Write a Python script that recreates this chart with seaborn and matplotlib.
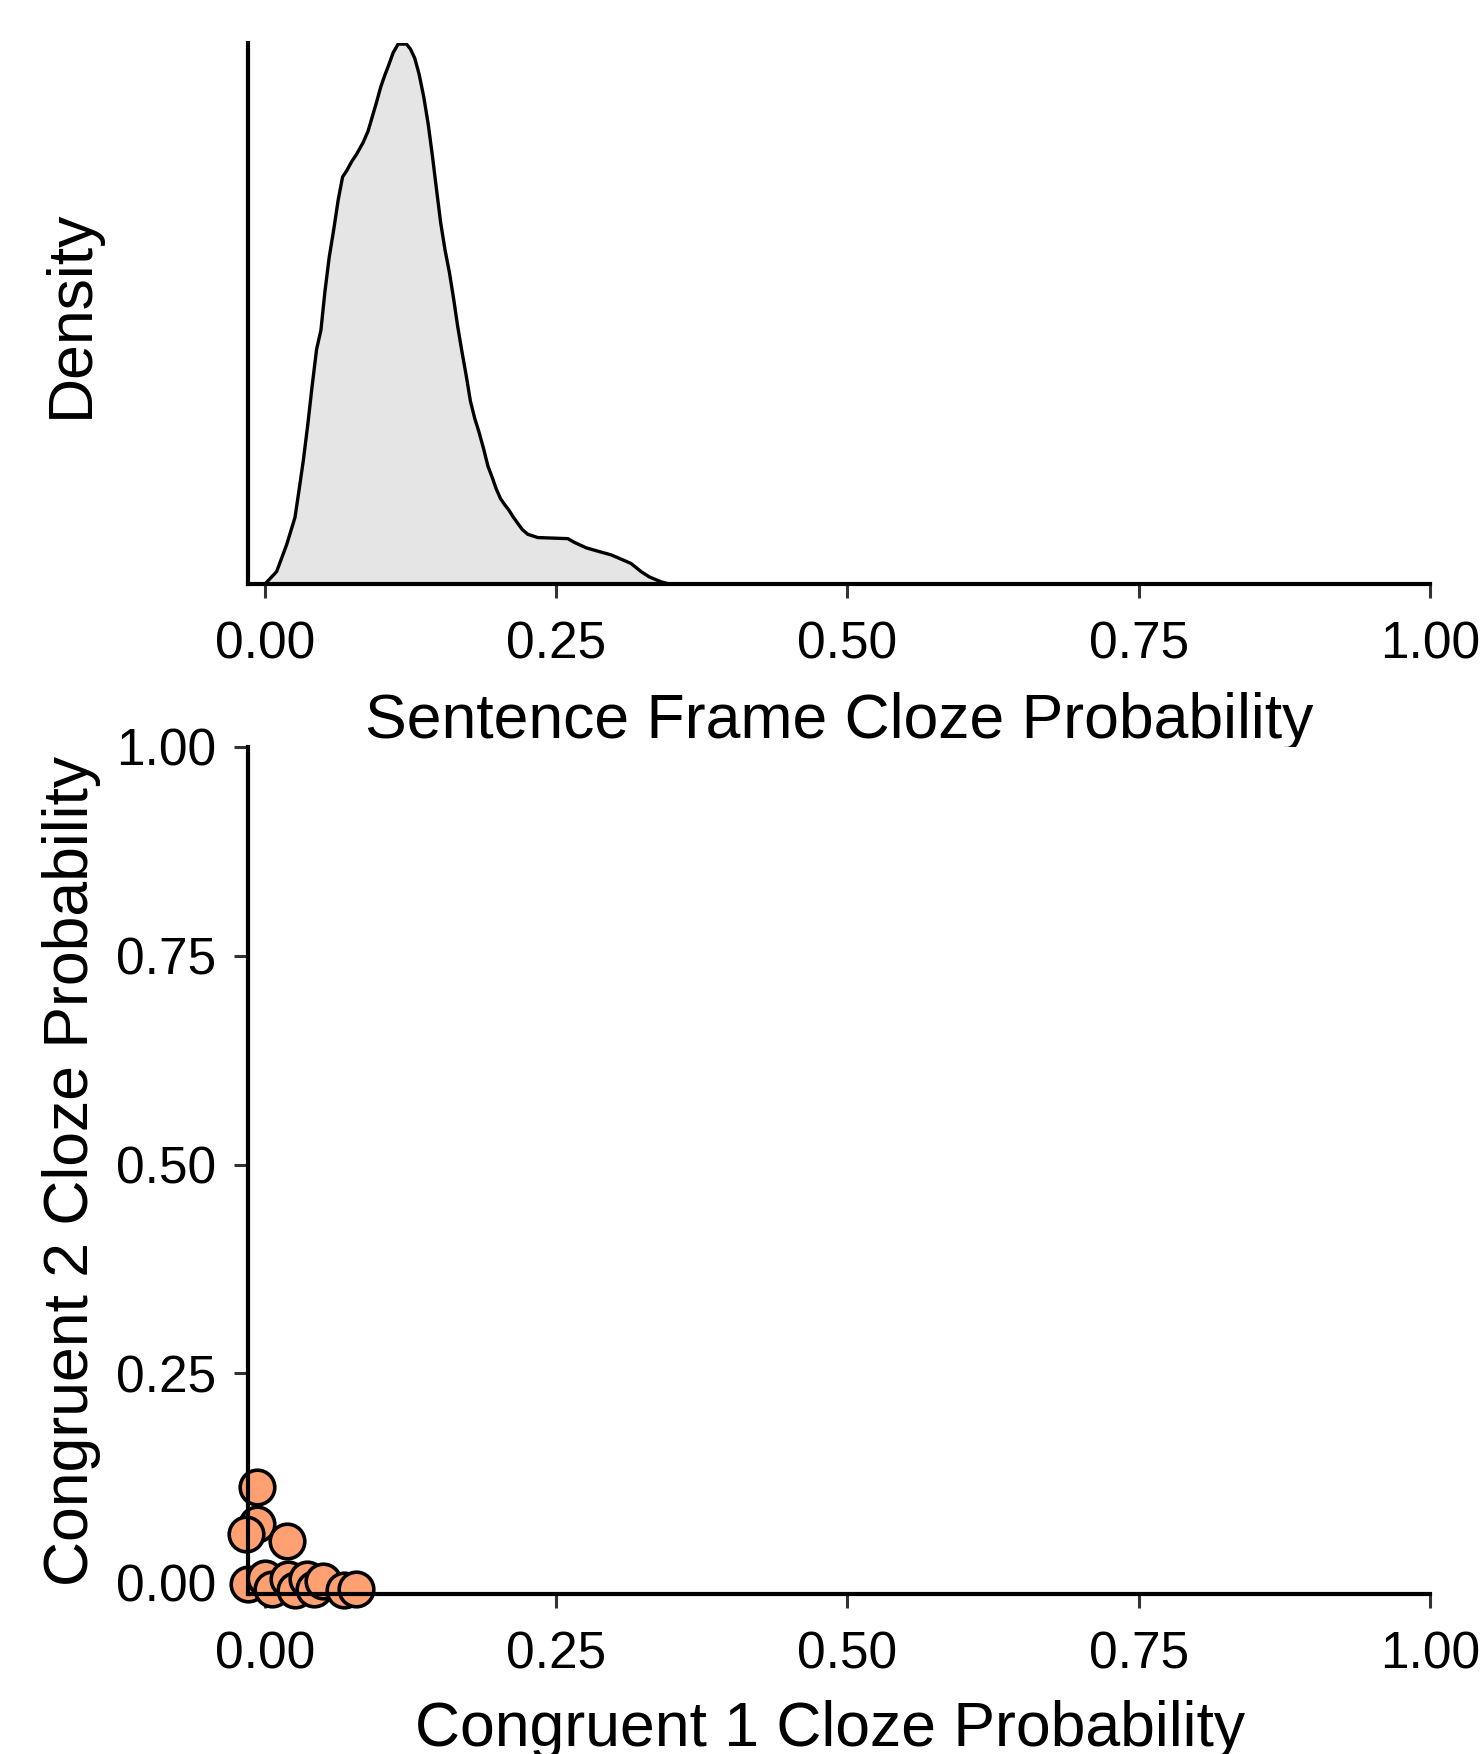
import matplotlib
matplotlib.use("Agg")
import matplotlib.pyplot as plt
import seaborn as sns
import pandas as pd

# ---- data ----
frame_cloze = [0.000, 0.010, 0.0186, 0.0257, 0.0291, 0.0329, 0.0366, 0.0403, 0.0443, 0.048,
               0.0514, 0.0551, 0.0591, 0.0628, 0.0666, 0.070, 0.0743, 0.0786, 0.0843, 0.0885,
               0.0923, 0.0957, 0.0994, 0.1028, 0.1065, 0.110, 0.1143, 0.1214, 0.1248, 0.1285,
               0.1322, 0.1362, 0.140, 0.1437, 0.1471, 0.1508, 0.1545, 0.1583, 0.162, 0.1654,
               0.169, 0.1728, 0.1763, 0.180, 0.1836, 0.1877, 0.1914, 0.1951, 0.1985, 0.2022,
               0.2057, 0.2093, 0.2131, 0.2171, 0.2208, 0.2256, 0.2342, 0.2471, 0.260, 0.2656,
               0.2757, 0.287, 0.297, 0.3057, 0.3142, 0.3228, 0.330, 0.340, 0.347]
frame_density = [0, 0.023, 0.073, 0.123, 0.172, 0.229, 0.293, 0.364, 0.435, 0.470,
                 0.541, 0.605, 0.658, 0.711, 0.754, 0.765, 0.782, 0.796, 0.818, 0.839,
                 0.867, 0.892, 0.921, 0.942, 0.963, 0.984, 1.0, 1.0, 0.991, 0.974,
                 0.945, 0.903, 0.853, 0.793, 0.733, 0.669, 0.619, 0.577, 0.527, 0.477,
                 0.431, 0.385, 0.339, 0.307, 0.282, 0.250, 0.218, 0.197, 0.176, 0.158,
                 0.147, 0.137, 0.124, 0.112, 0.101, 0.092, 0.086, 0.085, 0.084, 0.077,
                 0.067, 0.060, 0.054, 0.046, 0.038, 0.023, 0.013, 0.004, 0]

cong1_cloze = [-0.007, -0.0066, -0.0166, 0.0186, -0.015, 0.000, 0.006, 0.020, 0.026,
               0.036, 0.042, 0.050, 0.068, 0.078]
cong2_cloze = [0.1136, 0.070, 0.058, 0.0489, -0.002, 0.005, -0.008, 0.004, -0.009,
               0.004, -0.008, 0.001, -0.009, -0.008]

tick_values = [0.0, 0.25, 0.5, 0.75, 1.0]
tick_labels = ["0.00", "0.25", "0.50", "0.75", "1.00"]

x_label_top = "Sentence Frame Cloze Probability"
y_label_top = "Density"
x_label_bottom = "Congruent 1 Cloze Probability"
y_label_bottom = "Congruent 2 Cloze Probability"

# ---- style ----
sns.set_style("ticks")
plt.rcParams['font.family'] = ['Liberation Sans', 'DejaVu Sans']
plt.rcParams['axes.labelcolor'] = 'black'
plt.rcParams['text.color'] = 'black'

fig = plt.figure(figsize=(14.81, 17.54), dpi=100)
ax1 = fig.add_axes([0.16745, 0.66705, 0.7981, 0.30844])
ax2 = fig.add_axes([0.16745, 0.09122, 0.7981, 0.4829])

dens = pd.DataFrame({"x": frame_cloze, "d": frame_density})
ax1.fill_between(dens["x"], dens["d"], color="#E5E5E5", lw=0, zorder=1)
sns.lineplot(data=dens, x="x", y="d", ax=ax1, color="black", lw=2.4, sort=False,
             estimator=None, zorder=2)

pts = pd.DataFrame({"c1": cong1_cloze, "c2": cong2_cloze})
sns.scatterplot(data=pts, x="c1", y="c2", ax=ax2, s=620, color="#FFA072",
                edgecolor="black", linewidth=2.6, clip_on=False, zorder=1)

for ax in (ax1, ax2):
    sns.despine(ax=ax)
    for side in ("left", "bottom"):
        ax.spines[side].set_linewidth(3.0)
        ax.spines[side].set_color("black")
        ax.spines[side].set_zorder(5)
    ax.set_xlim(-0.0146, 1.0)
    ax.set_xticks(tick_values)
    ax.set_xticklabels(tick_labels)
    ax.tick_params(axis="both", length=10, width=2.2, color="#333333",
                   labelsize=37, labelcolor="black")
    ax.tick_params(axis="x", pad=16)
    ax.tick_params(axis="y", pad=13)

ax1.set_ylim(0, 1.002)
ax1.set_yticks([])
ax2.set_ylim(-0.0143, 1.0)
ax2.set_yticks(tick_values)
ax2.set_yticklabels(tick_labels)

ax1.set_xlabel(x_label_top, fontsize=45, color="black")
ax1.set_ylabel(y_label_top, fontsize=45, color="black")
ax2.set_xlabel(x_label_bottom, fontsize=45, color="black")
ax2.set_ylabel(y_label_bottom, fontsize=45, color="black")

ax1.xaxis.set_label_coords(0.5, -0.1996)
ax1.xaxis.label.set_va("top")
ax2.xaxis.set_label_coords(0.4924, -0.1251)
ax2.xaxis.label.set_va("top")
ax1.yaxis.set_label_coords(-0.1244, 0.5)
ax2.yaxis.set_label_coords(-0.1244, 0.5)

fig.savefig("out.png", dpi=100, facecolor="white")
